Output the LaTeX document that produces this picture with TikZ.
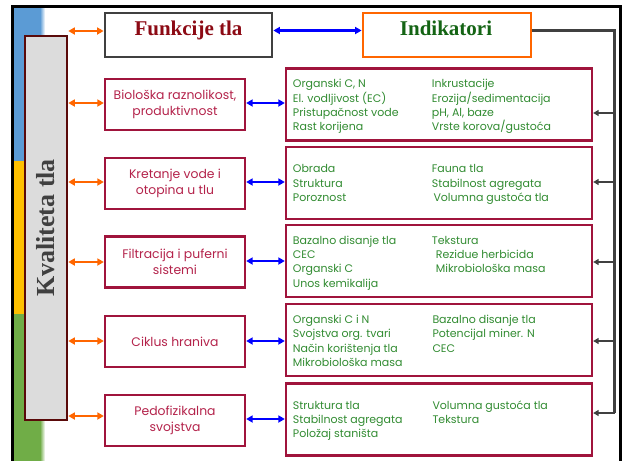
\documentclass[tikz,border=0pt]{standalone}
\usepackage{fontspec}
\setmainfont{Liberation Serif}
\newfontfamily\gothic{Poppins}
\usetikzlibrary{arrows.meta}
\definecolor{crim}{RGB}{160,20,60}
\definecolor{crimtext}{RGB}{180,35,75}
\definecolor{grn}{RGB}{50,140,50}
\definecolor{dkred}{RGB}{140,10,20}
\definecolor{dkgreen}{RGB}{20,100,20}
\definecolor{orng}{RGB}{255,102,0}
\definecolor{maroonc}{RGB}{90,10,10}
\definecolor{dgray}{RGB}{64,64,64}
\definecolor{sblue}{RGB}{91,155,213}
\definecolor{syellow}{RGB}{255,192,0}
\definecolor{sgreen}{RGB}{112,173,71}
\definecolor{boxgray}{RGB}{220,220,220}
\tikzset{
  lbox/.style={draw=crim, line width=2.3pt, fill=white, minimum width=140pt, minimum height=51pt, inner sep=0pt,
    align=center, text=crimtext, font=\gothic\fontsize{12.4}{15.5}\selectfont},
  rbox/.style={draw=crim, line width=2.3pt, fill=white, minimum width=306pt, minimum height=72pt, inner sep=0pt},
  rtext/.style={anchor=base west, inner sep=0pt, text=grn, font=\gothic\fontsize{11}{13}\selectfont},
  oarr/.style={draw=orng, line width=2.4pt, {Triangle[length=6.5pt,width=7pt]}-{Triangle[length=6.5pt,width=7pt]}},
  barr/.style={draw=blue, line width=2.2pt, {Triangle[length=6.5pt,width=7pt]}-{Triangle[length=6.5pt,width=7pt]}},
  garr/.style={draw=dgray, line width=2.5pt, -{Triangle[length=5.5pt,width=6pt]}},
}
\newcommand\rl[4]{\node[rtext] (#1) at (#2,#3) {#4};}
\begin{document}
\begin{tikzpicture}[x=1pt,y=-1pt]
\useasboundingbox (0,0) rectangle (622,461);
\fill[white] (0,0) rectangle (622,461);
% side strip
\fill[sblue] (13,7) rectangle (40,161);
\shade[left color=sblue, right color=white] (40,7) rectangle (45,161);
\fill[syellow] (13,161) rectangle (40,314);
\shade[left color=syellow, right color=white] (40,161) rectangle (45,314);
\fill[sgreen] (13,314) rectangle (40,461);
\shade[left color=sgreen, right color=white] (40,314) rectangle (45,461);
% frame
\draw[black, line width=2.6pt] (12.5,461) -- (12.5,6.5) -- (620.5,6.5) -- (620.5,461);
% quality box
\node[draw=maroonc, line width=2.6pt, fill=boxgray, minimum width=42pt, minimum height=384pt, inner sep=0pt] (kt) at (46,228) {};
\node[rotate=90, text=dgray, font=\bfseries\fontsize{26}{30}\selectfont, inner sep=0pt] (ktt) at (46,228) {Kvaliteta tla};
% title boxes
\node[draw=dgray, line width=2.8pt, minimum width=167pt, minimum height=44pt, inner sep=0pt] (fun) at (188.5,35) {};
\node[anchor=base, inner sep=0pt, text=dkred, font=\bfseries\fontsize{21}{24}\selectfont] (funt) at (188.5,35) {Funkcije tla};
\node[draw=orng, line width=2.8pt, minimum width=168pt, minimum height=44pt, inner sep=0pt] (ind) at (447,35) {};
\node[anchor=base, inner sep=0pt, text=dkgreen, font=\bfseries\fontsize{21}{24}\selectfont] (indt) at (446,35) {Indikatori};
% left boxes
\node[lbox] (l1) at (175,104.5) {Biološka raznolikost,\\produktivnost};
\node[lbox] (l2) at (175,183.5) {Kretanje vode i\\otopina u tlu};
\node[lbox] (l3) at (175,262) {Filtracija i puferni\\sistemi};
\node[lbox] (l4) at (175,341.5) {Ciklus hraniva};
\node[lbox] (l5) at (175,420.5) {Pedofizikalna\\svojstva};
% right boxes
\node[rbox] (r1) at (439,104.5) {};
\node[rbox] (r2) at (439,183) {};
\node[rbox] (r3) at (439,261) {};
\node[rbox] (r4) at (439,340) {};
\node[rbox] (r5) at (439,419.5) {};
% right texts
\rl{a1}{292.7}{87.5}{Organski C, N}
\rl{a2}{292.7}{102}{El. vodljivost (EC)}
\rl{a3}{292.7}{116.5}{Pristupačnost vode}
\rl{a4}{292.7}{130.8}{Rast korijena}
\rl{a5}{431.7}{87.5}{Inkrustacije}
\rl{a6}{431.7}{102}{Erozija/sedimentacija}
\rl{a7}{431.7}{116.5}{pH, Al, baze}
\rl{a8}{431.7}{130.8}{Vrste korova/gustoća}
\rl{b1}{292.7}{172.7}{Obrada}
\rl{b2}{292.7}{187.1}{Struktura}
\rl{b3}{292.7}{201.5}{Poroznost}
\rl{b4}{431.7}{172.7}{Fauna tla}
\rl{b5}{431.7}{187.1}{Stabilnost agregata}
\rl{b6}{433.3}{201.5}{Volumna gustoća tla}
\rl{c1}{292.7}{244}{Bazalno disanje tla}
\rl{c2}{292.7}{258.4}{CEC}
\rl{c3}{292.7}{272.8}{Organski C}
\rl{c4}{292.7}{287.2}{Unos kemikalija}
\rl{c5}{431.7}{244}{Tekstura}
\rl{c6}{435.7}{258.4}{Rezidue herbicida}
\rl{c7}{435.7}{272.8}{Mikrobiološka masa}
\rl{d1}{292.7}{323.3}{Organski C i N}
\rl{d2}{292.7}{337.7}{Svojstva org. tvari}
\rl{d3}{292.7}{352.1}{Način korištenja tla}
\rl{d4}{292.7}{366.5}{Mikrobiološka masa}
\rl{d5}{432.3}{323.3}{Bazalno disanje tla}
\rl{d6}{432.3}{337.7}{Potencijal miner. N}
\rl{d7}{432.3}{352.1}{CEC}
\rl{e1}{292.7}{409}{Struktura tla}
\rl{e2}{292.7}{423.3}{Stabilnost agregata}
\rl{e3}{292.7}{437.7}{Položaj staništa}
\rl{e4}{432.3}{409}{Volumna gustoća tla}
\rl{e5}{432.3}{423.3}{Tekstura}
% connectors
\draw[oarr] (kt.east |- 0,31) -- (fun.west |- 0,31);
\draw[barr] (fun.east |- 0,30.5) -- (ind.west |- 0,30.5);
\draw[oarr] (kt.east |- 0,103) -- (l1.west |- 0,103);
\draw[oarr] (kt.east |- 0,182) -- (l2.west |- 0,182);
\draw[oarr] (kt.east |- 0,262) -- (l3.west |- 0,262);
\draw[oarr] (kt.east |- 0,341) -- (l4.west |- 0,341);
\draw[oarr] (kt.east |- 0,416) -- (l5.west |- 0,416);
\draw[barr] (l1.east |- 0,103) -- (r1.west |- 0,103);
\draw[barr] (l2.east |- 0,182) -- (r2.west |- 0,182);
\draw[barr] (l3.east |- 0,261) -- (r3.west |- 0,261);
\draw[barr] (l4.east |- 0,341) -- (r4.west |- 0,341);
\draw[barr] (l5.east |- 0,419) -- (r5.west |- 0,419);
\coordinate (vt) at (614.5,30.5);
\coordinate (vb) at (614.5,413);
\draw[dgray, line width=2.5pt] (ind.east |- vt) -- (vt) -- (vb);
\draw[garr] (vt |- 0,113) -- (r1.east |- 0,113);
\draw[garr] (vt |- 0,182) -- (r2.east |- 0,182);
\draw[garr] (vt |- 0,262) -- (r3.east |- 0,262);
\draw[garr] (vt |- 0,341) -- (r4.east |- 0,341);
\draw[garr] (vb) -- (r5.east |- vb);
\end{tikzpicture}
\end{document}
